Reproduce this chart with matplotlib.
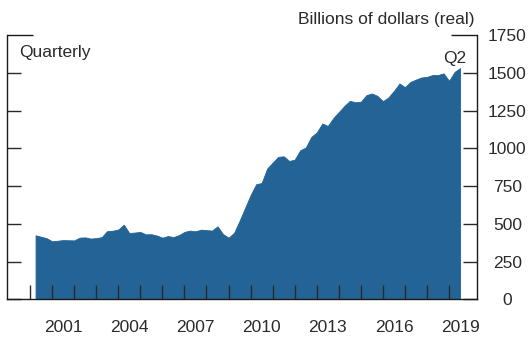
import numpy as np
import matplotlib
matplotlib.use("Agg")
import matplotlib.pyplot as plt

plt.rcParams["font.family"] = ["Liberation Sans", "DejaVu Sans"]

# Quarterly values, 2000:Q1 through 2019:Q2 (billions of real dollars)
start_year = 2000
values = [
    424, 414, 405, 384,        # 2000
    388, 392, 391, 390,        # 2001
    408, 410, 402, 405,        # 2002
    412, 452, 454, 462,        # 2003
    494, 439, 442, 446,        # 2004
    430, 431, 422, 408,        # 2005
    419, 412, 425, 446,        # 2006
    455, 450, 461, 458,        # 2007
    455, 483, 432, 408,        # 2008
    440, 520, 605, 690,        # 2009
    762, 770, 866, 905,        # 2010
    943, 947, 916, 925,        # 2011
    987, 1005, 1075, 1105,     # 2012
    1164, 1148, 1200, 1240,    # 2013
    1280, 1314, 1305, 1308,    # 2014
    1352, 1363, 1347, 1312,    # 2015
    1337, 1380, 1429, 1405,    # 2016
    1440, 1455, 1469, 1473,    # 2017
    1485, 1485, 1496, 1447,    # 2018
    1506, 1531,                # 2019
]
year_ticks = list(range(2000, 2020))
year_labels = ["2001", "2004", "2007", "2010", "2013", "2016", "2019"]
y_ticks = [0, 250, 500, 750, 1000, 1250, 1500]
y_top = 1750

# plot each quarter at its end point
x = start_year + 0.25 * (np.arange(len(values)) + 1)

fill_color = "#246395"
spine_color = "#1a1a1a"
tick_color = "#2a2a2a"
text_color = "#2b2b2b"

fig = plt.figure(figsize=(5.31, 3.37), dpi=100)
ax = fig.add_axes([0.0138, 0.1119, 0.8851, 0.7842])

ax.fill_between(x, 0, values, color=fill_color, linewidth=0.6, edgecolor=fill_color)

ax.set_xlim(1998.97, 2020.28)
ax.set_ylim(0, y_top)

for side in ("left", "right", "bottom"):
    ax.spines[side].set_color(spine_color)
    ax.spines[side].set_linewidth(1.0)
ax.spines["top"].set_visible(False)

# x axis: year tick marks, labels centred between them
ax.set_xticks(year_ticks)
ax.set_xticklabels([])
ax.set_xticks([int(y) + 0.5 for y in year_labels], minor=True)
ax.set_xticklabels(year_labels, minor=True)
ax.tick_params(axis="x", which="major", direction="in", length=10,
               width=1.0, color=tick_color, top=False)
ax.tick_params(axis="x", which="minor", length=0, pad=15,
               labelsize=12.5, labelcolor=text_color)

# y axis: inward ticks on both sides, labels on the right
ax.set_yticks(y_ticks)
ax.set_yticks([y_top], minor=True)
ax.set_yticklabels([str(v) for v in y_ticks])
ax.set_yticklabels([str(y_top)], minor=True)
ax.tick_params(axis="y", which="both", direction="in", left=True, right=True,
               labelleft=False, labelright=True, width=1.0, color=tick_color,
               pad=21.6, labelsize=12.5, labelcolor=text_color)
ax.tick_params(axis="y", which="major", length=10)
ax.tick_params(axis="y", which="minor", length=18.7, color=spine_color)
for lab in ax.get_yticklabels(which="both"):
    lab.set_horizontalalignment("center")

ax.text(0.0255, 0.917, "Quarterly", transform=ax.transAxes, fontsize=12.5,
        color=text_color, ha="left", va="baseline")
ax.annotate("Q2", xy=(x[-1], values[-1]), xytext=(-3.6, 3.6),
            textcoords="offset points", ha="center", va="baseline",
            fontsize=12.5, color=text_color)
fig.text(0.893, 0.930, "Billions of dollars (real)", fontsize=12.5,
         color=text_color, ha="right", va="baseline")

fig.savefig("out.png", dpi=100)
